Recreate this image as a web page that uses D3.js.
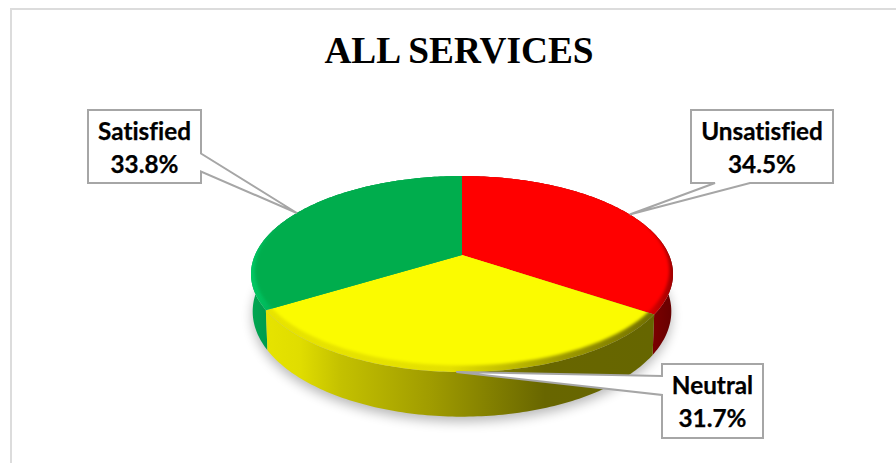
<!DOCTYPE html>
<html>
<head>
<meta charset="utf-8">
<title>All services</title>
<script src="https://cdn.jsdelivr.net/npm/d3@7"></script>
<style>
  html, body { margin: 0; padding: 0; background: #fff; }
  svg { display: block; }
  text { font-variant-ligatures: none; }
</style>
</head>
<body>
<svg id="chart" width="896" height="463"></svg>
<script>
const chartTitle = "ALL SERVICES";
const categories = ["Unsatisfied", "Neutral", "Satisfied"];
const shares = [34.5, 31.7, 33.8];
const faceColors = ["#ff0000", "#fbfb00", "#00ad4e"];

// Walls and bevels use horizontal ramps: [x position, colour]
const wallRamps = [
  [[640, "#8a0000"], [672, "#660000"]],
  [[267, "#e6e300"], [300, "#e0dd00"], [340, "#c4c100"], [430, "#a09c00"], [545, "#686600"], [653, "#666600"]],
  [[252, "#00a651"], [270, "#009a4c"]]
];
const rimRamps = [
  [[462, "#ff0000"], [640, "#f00000"], [673, "#a00000"]],
  [[267, "#e8e400"], [450, "#e4e000"], [560, "#a09c00"], [653, "#727000"]],
  [[251, "#00c862"], [275, "#00b257"], [300, "#00ad4e"]]
];

const svg = d3.select("#chart");
const defs = svg.append("defs");

// Perspective projection of the pie disc on to the page
const apex = { x: 462, y: 255 };
const radius = 207, foreshorten = 94.3, tilt = 0.194, depth = 36, baseScale = 0.992;

function project(angle, r = 1, drop = 0) {
  const x = Math.sin(angle) * r, z = -Math.cos(angle) * r;
  const s = 1 / (1 - tilt * z);
  const k = drop ? baseScale : 1;
  return [apex.x + radius * x * s * k, apex.y + foreshorten * z * s + drop * s];
}

const pieLayout = d3.pie().sort(null).value(d => d)(shares);
const line = d3.line();
const arcAngles = (a0, a1) => d3.range(0, 121).map(i => a0 + (a1 - a0) * i / 120);

function ramp(id, stops) {
  const x0 = stops[0][0], x1 = stops[stops.length - 1][0];
  const g = defs.append("linearGradient").attr("id", id)
    .attr("gradientUnits", "userSpaceOnUse")
    .attr("x1", x0).attr("x2", x1).attr("y1", 0).attr("y2", 0);
  stops.forEach(([x, c]) => g.append("stop").attr("offset", (x - x0) / (x1 - x0)).attr("stop-color", c));
}
wallRamps.forEach((s, i) => ramp("wall" + i, s));
rimRamps.forEach((s, i) => ramp("rim" + i, s));

defs.append("filter").attr("id", "soft").attr("x", "-20%").attr("y", "-30%").attr("width", "140%").attr("height", "160%")
  .append("feGaussianBlur").attr("stdDeviation", 6);
defs.append("filter").attr("id", "bevel").attr("x", "-10%").attr("y", "-10%").attr("width", "120%").attr("height", "120%")
  .append("feGaussianBlur").attr("stdDeviation", 1.5);

// Sheet outline along the top and left
svg.append("path").attr("d", "M11,463V9H896").attr("fill", "none").attr("stroke", "#dcdcdc").attr("stroke-width", 2);

// Title
svg.append("text").attr("x", 459).attr("y", 63)
  .attr("text-anchor", "middle")
  .attr("font-family", "'Liberation Serif', serif").attr("font-weight", "bold").attr("font-size", 37.3)
  .attr("fill", "#000").text(chartTitle);

// Cast shadow under the disc
const full = arcAngles(0, 2 * Math.PI);
svg.append("path")
  .attr("d", line(full.map(a => { const p = project(a, 1.0, depth); return [p[0], p[1] + 5]; })) + "Z")
  .attr("fill", "#000").attr("opacity", 0.28).attr("filter", "url(#soft)");

// Outer walls
const walls = svg.append("g");
[0, 2, 1].forEach(i => {
  const d = pieLayout[i];
  const a = arcAngles(d.startAngle, d.endAngle);
  const pts = a.map(t => project(t)).concat(a.slice().reverse().map(t => project(t, 1, depth)));
  walls.append("path").attr("d", line(pts) + "Z").attr("fill", `url(#wall${i})`);
});

// Top faces: a bevel-coloured slice with a softened inner disc clipped on top
const rimWidth = t => 0.055 * Math.pow((1 - Math.cos(t)) / 2, 1.3);
const faces = svg.append("g");
pieLayout.forEach((d, i) => {
  const a = arcAngles(d.startAngle, d.endAngle);
  const slice = line([project(0, 0)].concat(a.map(t => project(t)))) + "Z";
  defs.append("clipPath").attr("id", "clip" + i).append("path").attr("d", slice);
  faces.append("path").attr("d", slice).attr("fill", `url(#rim${i})`);
  faces.append("g").attr("clip-path", `url(#clip${i})`)
    .append("path")
    .attr("d", line(full.map(t => project(t, 1.01 - rimWidth(t)))) + "Z")
    .attr("fill", faceColors[i]).attr("filter", "url(#bevel)");
});

// Callout boxes, with pointers that reach the middle of each slice's outer edge
const calloutBoxes = [
  { x: 691, y: 110, w: 142, h: 73, side: "bottom", from: 715, to: 750 },
  { x: 662, y: 364, w: 101, h: 74, side: "left", from: 376, to: 395 },
  { x: 88, y: 110, w: 113, h: 73, side: "right", from: 153.5, to: 171.5 }
];

function calloutPath(b, tip) {
  const r = b.x + b.w, u = b.y + b.h;
  const pts = [[b.x, b.y], [r, b.y]];
  if (b.side === "right") pts.push([r, b.from], tip, [r, b.to]);
  pts.push([r, u]);
  if (b.side === "bottom") pts.push([b.to, u], tip, [b.from, u]);
  pts.push([b.x, u]);
  if (b.side === "left") pts.push([b.x, b.to], tip, [b.x, b.from]);
  return line(pts) + "Z";
}

const percent = d3.format(".1f");
const labels = svg.append("g");
pieLayout.forEach((d, i) => {
  const b = calloutBoxes[i];
  const tip = project((d.startAngle + d.endAngle) / 2);
  labels.append("path").attr("d", calloutPath(b, tip))
    .attr("fill", "#fff").attr("stroke", "#a6a6a6").attr("stroke-width", 2).attr("stroke-linejoin", "miter");
  const t = labels.append("text")
    .attr("text-anchor", "middle")
    .attr("font-family", "Lato, 'Noto Sans', sans-serif").attr("font-weight", "bold").attr("font-size", 24.3)
    .attr("fill", "#000").attr("stroke", "#000").attr("stroke-width", 0.25);
  const cx = b.x + b.w / 2;
  t.append("tspan").attr("x", cx).attr("y", b.y + 30).text(categories[i]);
  t.append("tspan").attr("x", cx).attr("y", b.y + 62.5).text(percent(d.data) + "%");
});
</script>
</body>
</html>
